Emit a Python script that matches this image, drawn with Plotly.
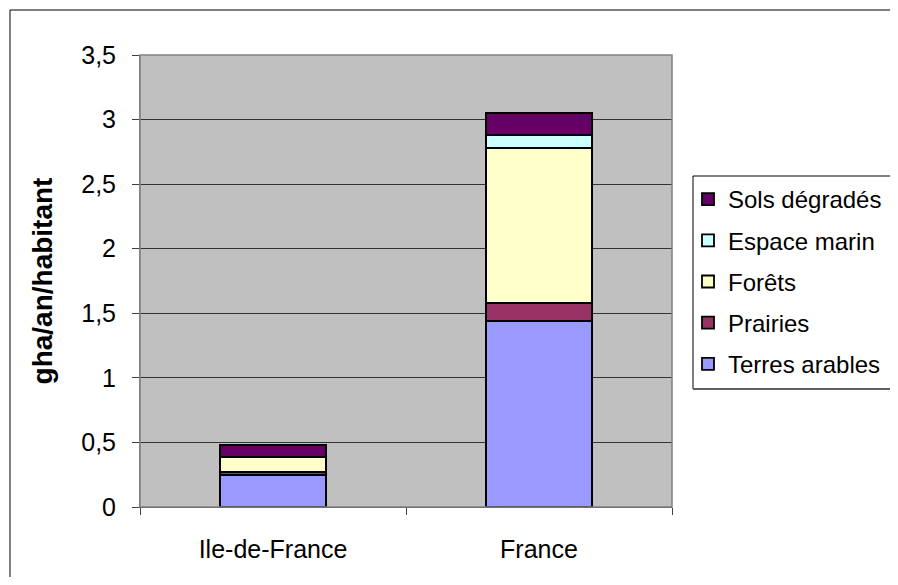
import plotly.graph_objects as go

categories = ["Ile-de-France", "France"]
series_names = ["Terres arables", "Prairies", "Forêts", "Espace marin", "Sols dégradés"]
terres_arables = [0.25, 1.44]
prairies = [0.02, 0.14]
forets = [0.12, 1.20]
espace_marin = [0.0, 0.10]
sols_degrades = [0.09, 0.17]
series_values = [terres_arables, prairies, forets, espace_marin, sols_degrades]
colors = ["#9999FF", "#993366", "#FFFFCC", "#CCFFFF", "#660066"]
y_ticks = [0, 0.5, 1, 1.5, 2, 2.5, 3, 3.5]

fig = go.Figure()
n = len(series_names)
for i, (name, vals, col) in enumerate(zip(series_names, series_values, colors)):
    fig.add_trace(go.Bar(
        x=categories, y=vals, name=name, legendgroup=name, legendrank=100 + (n - i),
        marker=dict(color=col, line=dict(color="black", width=1.8)),
    ))

# page offset of 8px (body margin) compensated
OFF = 8
W, H = 898 - OFF, 585 - 2 * OFF
L, T = 140 - OFF, 55 - OFF
R = W - (672 - OFF)
B = H - (507 - OFF)
pw, ph = W - L - R, H - T - B

def px(x):
    return (x - OFF - L) / pw

def py(y):
    return (H - B - (y - OFF)) / ph

border = dict(color="#000000", width=1)
shapes = [
    # outer chart border (top and left edges; the rest lies outside the picture)
    dict(type="line", xref="paper", yref="paper", x0=px(10), x1=px(940), y0=py(10), y1=py(10), line=border),
    dict(type="line", xref="paper", yref="paper", x0=px(10), x1=px(10), y0=py(10), y1=py(620), line=border),
    # plot area frame
    dict(type="rect", xref="paper", yref="paper", x0=0, x1=1, y0=0, y1=1,
         line=dict(color="#808080", width=1.5), fillcolor="rgba(0,0,0,0)", layer="above"),
    # legend box (top, left, bottom edges)
    dict(type="line", xref="paper", yref="paper", x0=px(693), x1=px(940), y0=py(176), y1=py(176), line=border),
    dict(type="line", xref="paper", yref="paper", x0=px(693), x1=px(693), y0=py(176), y1=py(389), line=border),
    dict(type="line", xref="paper", yref="paper", x0=px(693), x1=px(940), y0=py(389), y1=py(389),
         line=dict(color="#606060", width=2)),
]

fig.update_layout(
    width=W, height=H,
    margin=dict(l=L, r=R, t=T, b=B, pad=0, autoexpand=False),
    barmode="stack", bargap=0.6,
    paper_bgcolor="white", plot_bgcolor="#C0C0C0",
    separators=", ",
    font=dict(family="Liberation Sans, Arial, sans-serif", size=25, color="black"),
    showlegend=True,
    legend=dict(
        xref="container", yref="container",
        x=(688 - OFF) / W, y=1 - (177 - OFF) / H, xanchor="left", yanchor="top",
        traceorder="grouped", tracegroupgap=7,
        font=dict(size=24), bgcolor="rgba(0,0,0,0)", borderwidth=0,
        itemwidth=30,
    ),
    shapes=shapes,
    xaxis=dict(
        showgrid=False, ticks="outside", tickson="boundaries", ticklen=7,
        tickcolor="#404040", showline=True, linecolor="#404040", linewidth=1,
        tickfont=dict(size=25), ticklabelstandoff=20,
    ),
    yaxis=dict(
        range=[0, 3.5], tickvals=y_ticks, ticks="outside", ticklen=7,
        tickcolor="#404040", showline=True, linecolor="#808080", linewidth=1,
        showgrid=True, gridcolor="#333333", gridwidth=1, zeroline=False,
        tickfont=dict(size=25), ticklabelstandoff=11,
        title=dict(text="<b>gha/an/habitant</b>", font=dict(size=28), standoff=20),
    ),
)

fig.write_html("out.html")
